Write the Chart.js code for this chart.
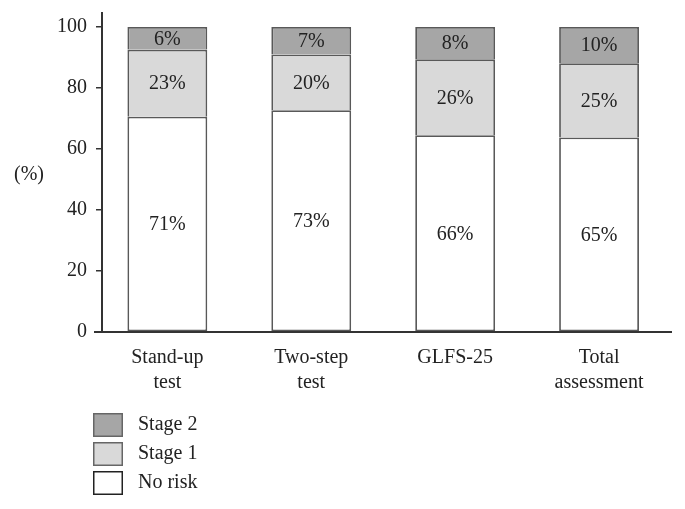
<!DOCTYPE html>
<html>
<head>
<meta charset="utf-8">
<script src="https://cdn.jsdelivr.net/npm/chart.js@4.4.1/dist/chart.umd.min.js"></script>
<style>
html,body{margin:0;padding:0;background:#fff;}
#wrap{width:685px;height:509px;position:relative;}
</style>
</head>
<body>
<div id="wrap"><canvas id="c" width="685" height="509"></canvas></div>
<script>
const categories = [["Stand-up","test"],["Two-step","test"],["GLFS-25"],["Total","assessment"]];
const noRisk = [70.6, 72.7, 64.5, 63.8];
const stage1 = [22.0, 18.3, 24.9, 24.3];
const stage2 = [7.4, 9.0, 10.6, 11.9];
const noRiskLabels = ["71%","73%","66%","65%"];
const stage1Labels = ["23%","20%","26%","25%"];
const stage2Labels = ["6%","7%","8%","10%"];
const yTicks = [0,20,40,60,80,100];

const FONT = "'Liberation Serif', 'DejaVu Serif', serif";
const BORDER = '#595959';

const segLabels = {
  "No risk": noRiskLabels,
  "Stage 1": stage1Labels,
  "Stage 2": stage2Labels
};

const labelPlugin = {
  id: 'segLabels',
  afterDatasetsDraw(chart) {
    const ctx = chart.ctx;
    ctx.save();
    ctx.font = '20px ' + FONT;
    ctx.fillStyle = '#222';
    ctx.textAlign = 'center';
    ctx.textBaseline = 'middle';
    chart.data.datasets.forEach((ds, di) => {
      const meta = chart.getDatasetMeta(di);
      const texts = segLabels[ds.label];
      meta.data.forEach((bar, i) => {
        const y = (bar.y + bar.base) / 2;
        ctx.fillText(texts[i], bar.x, y + 1);
      });
    });
    ctx.restore();
  }
};

const shiftPlugin = {
  id: 'shiftX',
  afterLayout(chart) {
    const xs = chart.scales.x;
    xs.left = chart.chartArea.left - 6.6;
    xs.width = xs.right - xs.left;
    xs.configure();
  }
};

const extrasPlugin = {
  id: 'extras',
  afterDraw(chart) {
    const ctx = chart.ctx;
    const ys = chart.scales.y;
    ctx.save();
    ctx.font = '20px ' + FONT;
    ctx.fillStyle = '#222';
    ctx.textAlign = 'center';
    ctx.textBaseline = 'middle';
    ctx.fillText('(%)', 29, ys.getPixelForValue(51.5));
    // legend
    const order = [2,1,0];
    const y0 = 413;
    order.forEach((di, k) => {
      const ds = chart.data.datasets[di];
      const top = y0 + k * 29;
      ctx.fillStyle = ds.backgroundColor;
      ctx.fillRect(93, top, 30, 24);
      ctx.lineWidth = 1.5;
      ctx.strokeStyle = di === 0 ? '#222' : '#666';
      ctx.strokeRect(93.75, top + 0.75, 28.5, 22.5);
      ctx.fillStyle = '#222';
      ctx.textAlign = 'left';
      ctx.fillText(ds.label, 138, top + 12);
    });
    ctx.restore();
  }
};

new Chart(document.getElementById('c'), {
  type: 'bar',
  data: {
    labels: categories,
    datasets: [
      { label: 'No risk', data: noRisk, backgroundColor: '#ffffff', borderColor: BORDER, borderWidth: 1.8, borderSkipped: false },
      { label: 'Stage 1', data: stage1, backgroundColor: '#d9d9d9', borderColor: BORDER, borderWidth: 1.8, borderSkipped: 'bottom' },
      { label: 'Stage 2', data: stage2, backgroundColor: '#a6a6a6', borderColor: BORDER, borderWidth: 1.8, borderSkipped: 'bottom' }
    ]
  },
  options: {
    responsive: false,
    animation: false,
    devicePixelRatio: 1,
    layout: { padding: { top: 13, right: 14, left: 48, bottom: 101 } },
    datasets: { bar: { barPercentage: 0.555, categoryPercentage: 1.0 } },
    plugins: {
      legend: { display: false },
      tooltip: { enabled: false }
    },
    scales: {
      x: {
        stacked: true,
        grid: { display: false, drawTicks: false },
        border: { display: true, color: '#333', width: 2 },
        ticks: { color: '#222', font: { family: FONT, size: 20, lineHeight: 1.25 }, padding: 13, maxRotation: 0 }
      },
      y: {
        stacked: true,
        min: 0,
        max: 104.6,
        afterBuildTicks(scale) { scale.ticks = yTicks.map(v => ({ value: v })); },
        afterFit(scale) { scale.paddingTop = 0; scale.paddingBottom = 0; },
        grid: { drawOnChartArea: false, drawTicks: true, tickLength: 6, color: '#333', lineWidth: 1.5 },
        border: { display: true, color: '#333', width: 2 },
        ticks: { color: '#222', font: { family: FONT, size: 20 }, padding: 9 }
      }
    }
  },
  plugins: [shiftPlugin, labelPlugin, extrasPlugin]
});
</script>
</body>
</html>
